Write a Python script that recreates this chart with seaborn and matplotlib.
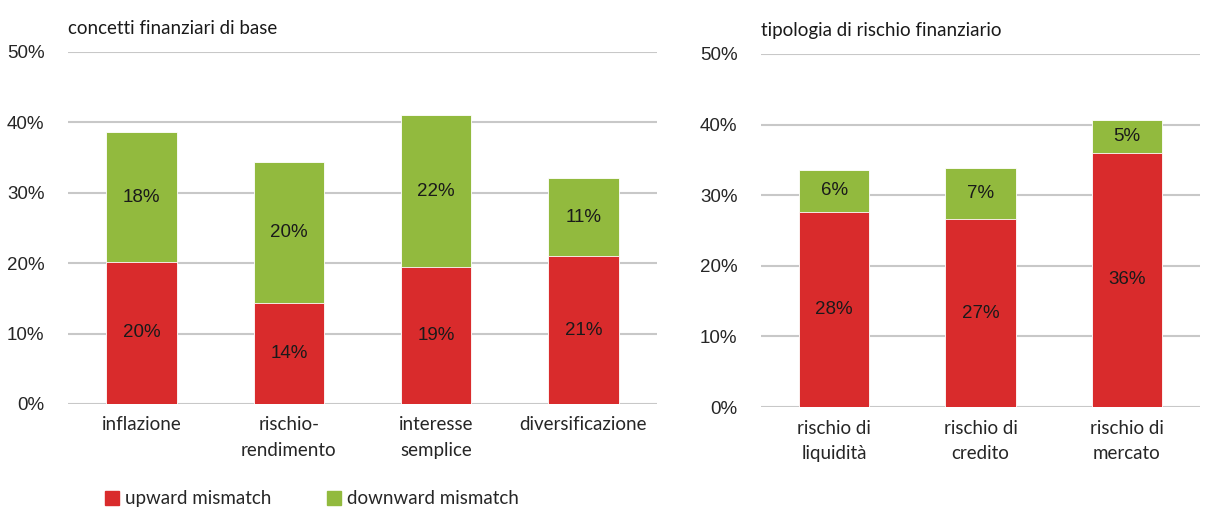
import matplotlib
matplotlib.use("Agg")
import matplotlib.pyplot as plt
import seaborn as sns
import pandas as pd
from matplotlib.patches import Patch

# left panel: concetti finanziari di base
left_cats = ["inflazione", "rischio-\nrendimento", "interesse\nsemplice", "diversificazione"]
left_up = [20.2, 14.4, 19.4, 21.0]
left_down = [18.4, 20.0, 21.6, 11.1]

# right panel: tipologia di rischio finanziario
right_cats = ["rischio di\nliquidità", "rischio di\ncredito", "rischio di\nmercato"]
right_up = [27.6, 26.6, 36.0]
right_down = [6.0, 7.3, 4.6]

RED = "#D92B2C"
GREEN = "#92BA3E"
GRID = "#C8C8C8"

sns.set_theme(style="white")
plt.rcParams["font.family"] = ["Lato", "DejaVu Sans"]

fig = plt.figure(figsize=(12.06, 5.09), dpi=100)
ax1 = fig.add_axes([68 / 1206, 105 / 509, 589 / 1206, 352 / 509])
ax2 = fig.add_axes([761 / 1206, 102 / 509, 439 / 1206, 353 / 509])


def draw(ax, cats, up, down, title):
    df = pd.DataFrame({"cat": cats, "up": up, "down": down})
    df["total"] = df["up"] + df["down"]
    sns.barplot(data=df, x="cat", y="total", color=GREEN, width=0.48,
                saturation=1, edgecolor="white", linewidth=0.6, ax=ax, zorder=3)
    sns.barplot(data=df, x="cat", y="up", color=RED, width=0.48,
                saturation=1, edgecolor="white", linewidth=0.6, ax=ax, zorder=3)
    for i, row in df.iterrows():
        ax.text(i, row["up"] / 2, f"{round(row['up']):.0f}%", ha="center", va="center",
                fontsize=13.5, family="Liberation Sans", color="#1a1a1a", zorder=4)
        ax.text(i, row["up"] + row["down"] / 2, f"{round(row['down']):.0f}%", ha="center",
                va="center", fontsize=13.5, family="Liberation Sans", color="#1a1a1a", zorder=4)
    ax.set_ylim(0, 50)
    ax.set_xlim(-0.5, len(cats) - 0.5)
    ax.set_yticks(range(0, 51, 10))
    ax.set_yticklabels([f"{v}%" for v in range(0, 51, 10)], family="Liberation Sans", fontsize=13.5)
    ax.yaxis.grid(True, color=GRID, linewidth=1.5, zorder=0)
    ax.set_axisbelow(True)
    for s in ax.spines.values():
        s.set_visible(False)
    ax.tick_params(axis="y", length=0, pad=17)
    ax.tick_params(axis="x", length=0, pad=9, labelsize=13.5)
    ax.set_xlabel("")
    ax.set_ylabel("")
    for lbl in ax.get_xticklabels():
        lbl.set_linespacing(1.6)
    ax.set_title(title, loc="left", fontsize=13.5, pad=13, x=0.0, color="#1a1a1a")


draw(ax1, left_cats, left_up, left_down, "concetti finanziari di base")
draw(ax2, right_cats, right_up, right_down, "tipologia di rischio finanziario")

handles = [Patch(color=RED, label="upward mismatch"), Patch(color=GREEN, label="downward mismatch")]
fig.legend(handles=handles, loc="lower left", bbox_to_anchor=(88 / 1206, -0.03), ncol=2,
           frameon=False, fontsize=13.5, handlelength=0.75, handleheight=0.75,
           handletextpad=0.3, columnspacing=3.0)

fig.savefig("out.png", dpi=100)
